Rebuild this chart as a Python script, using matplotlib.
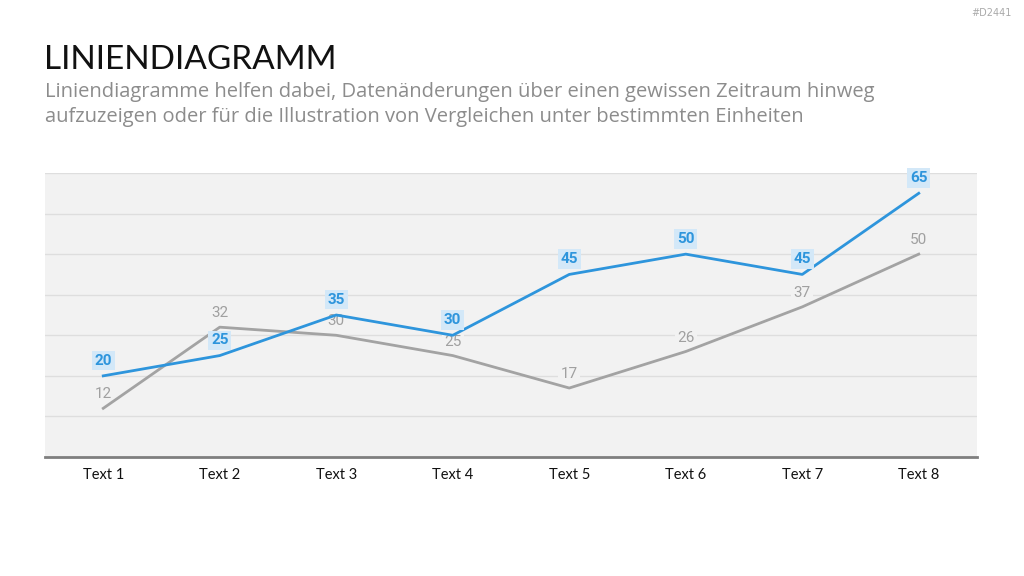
import matplotlib.pyplot as plt
import numpy as np

categories = ["Text 1", "Text 2", "Text 3", "Text 4", "Text 5", "Text 6", "Text 7", "Text 8"]
blue_values = [20, 25, 35, 30, 45, 50, 45, 65]
gray_values = [12, 32, 30, 25, 17, 26, 37, 50]

blue = "#2e95dc"
gray = "#a3a3a3"
label_font = ["Roboto", "DejaVu Sans"]

fig = plt.figure(figsize=(10.24, 5.76), dpi=100)
ax = fig.add_axes([45 / 1024, 119 / 576, 932 / 1024, 284 / 576])
ax.set_facecolor("#f2f2f2")

x = np.arange(len(categories))
ax.plot(x, gray_values, color=gray, lw=2, zorder=3)
ax.plot(x, blue_values, color=blue, lw=2, zorder=4)

# gray labels sit on the grid but under the lines
for xi, v in zip(x, gray_values):
    ax.annotate(str(v), (xi, v), xytext=(0, 10), textcoords="offset points",
                ha="center", va="center", fontsize=11, color="#a0a0a0",
                family=label_font, zorder=2.5,
                bbox=dict(boxstyle="square,pad=0.15", fc="#f2f2f2", ec="none"))
for xi, v in zip(x, blue_values):
    ax.annotate(str(v), (xi, v), xytext=(0, 11), textcoords="offset points",
                ha="center", va="center", fontsize=11, color=blue,
                family=label_font, fontweight="bold", zorder=6,
                bbox=dict(boxstyle="square,pad=0.18", fc="#d3e8f8", ec="none"))

ax.set_xlim(-0.5, 7.5)
ax.set_ylim(0, 70)
ax.set_yticks(np.arange(0, 71, 10))
ax.yaxis.grid(True, color="#dedede", lw=1)
ax.set_axisbelow(True)
ax.tick_params(axis="y", left=False, labelleft=False)
ax.tick_params(axis="x", length=0, pad=8)
ax.set_xticks(x)
ax.set_xticklabels(categories, fontsize=10.5, family="Lato", color="#111111")
for s in ["top", "left", "right"]:
    ax.spines[s].set_visible(False)
ax.spines["bottom"].set_color("#7f7f7f")
ax.spines["bottom"].set_linewidth(2)

fig.text(44 / 1024, 1 - 60 / 576, "LINIENDIAGRAMM", fontsize=24, family="Lato",
         color="#111111", va="center")
fig.text(45 / 1024, 1 - 92 / 576,
         "Liniendiagramme helfen dabei, Datenänderungen über einen gewissen Zeitraum hinweg",
         fontsize=14.5, family="Open Sans", color="#8c8c8c", va="center")
fig.text(45 / 1024, 1 - 117 / 576,
         "aufzuzeigen oder für die Illustration von Vergleichen unter bestimmten Einheiten",
         fontsize=14.5, family="Open Sans", color="#8c8c8c", va="center")
fig.text(1012 / 1024, 1 - 13 / 576, "#D2441", fontsize=7, color="#aaaaaa",
         ha="right", va="center")

fig.savefig("out.png", dpi=100)
